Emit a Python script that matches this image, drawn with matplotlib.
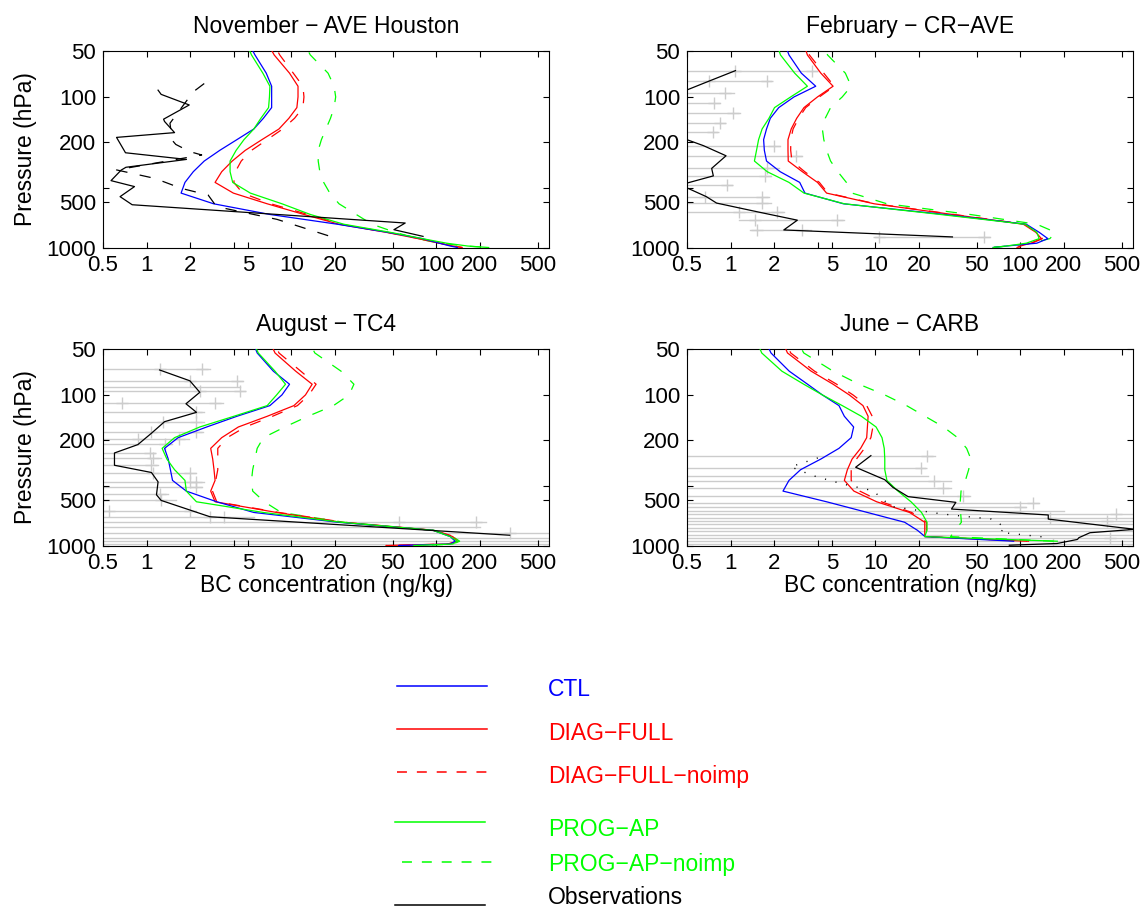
import numpy as np
import matplotlib.pyplot as plt

plt.rcParams['font.family'] = ['Liberation Sans', 'DejaVu Sans']
plt.rcParams['axes.linewidth'] = 0.8

nan = np.nan

# model levels (hPa)
p_mod = [37.23, 53.11, 70.06, 85.44, 100.51, 118.25, 139.12, 163.66, 192.54, 226.51, 266.48,
         313.50, 368.82, 433.90, 510.46, 600.52, 696.80, 787.70, 867.16, 929.65, 970.55, 992.56]

# ---- November - AVE Houston
nov_ctl = [4.6, 5.6, 6.7, 7.3, 7.3, 7.3, 6.4, 5.5, 4.2, 3.2, 2.5, 2.1, 1.84, 1.73, 2.9, 7.1, 20.8, 46, 80, 105, 125, 140]
nov_diag = [6.2, 7.6, 9.7, 11.1, 11.1, 10.9, 9.6, 8.2, 6.25, 4.8, 3.9, 3.3, 2.97, 3.97, 6.8, 12.2, 21.3, 45, 75, 105, 130, 150]
nov_diag_ni = [6.8, 8.3, 10.3, 12.0, 12.2, 12.0, 10.5, 8.7, 6.8, 5.3, 4.5, 4.1, 4.0, 4.6, 7.2, 13, 22, 46, 76, 106, 132, 152]
nov_prog = [4.5, 5.3, 6.35, 7.1, 7.05, 6.95, 6.15, 5.5, 4.7, 4.15, 3.77, 3.77, 3.93, 5.2, 8.6, 13.5, 23, 48, 80, 118, 165, 230]
nov_prog_ni = [11, 13.5, 17.9, 19.7, 20.2, 19.7, 18.6, 17.3, 16.1, 15.3, 15.3, 15.7, 16.7, 18.4, 21.3, 28, 36, 52, 74, 105, 160, 230]
nov_obs_p = [90.7, 96.7, 113.6, 141, 146, 173, 186, 235, 260, 293, 306, 359, 393, 458, 518, 684, 757, 838]
nov_obs = [1.20, 1.26, 1.97, 1.31, 1.33, 1.56, 0.62, 0.715, 1.885, 0.72, 0.667, 0.568, 0.825, 0.656, 0.795, 61, 51, 81]
nov_obs2_p = [82, 93, 150, 194, 207, 231, 243, 305, 347, 404, 447, 533, 647, 851]
nov_obs2 = [2.5, 2.1, 1.45, 1.5, 1.59, 1.99, 2.4, 0.62, 1.14, 1.74, 2.66, 3.04, 7.95, 19.5]

# ---- February - CR-AVE
feb_ctl = [2.2, 2.53, 3.08, 3.87, 2.74, 2.15, 1.88, 1.77, 1.69, 1.71, 1.77, 2.2, 3.0, 3.26, 6.0, 30, 110, 135, 155, 130, 80, 65]
feb_diag = [3.0, 3.39, 4.2, 5.1, 3.98, 3.21, 2.86, 2.62, 2.49, 2.49, 2.5, 3.13, 3.98, 4.6, 9.8, 34, 105, 128, 140, 118, 100, 95]
feb_diag_ni = [3.1, 3.5, 4.4, 5.2, 4.1, 3.3, 2.95, 2.7, 2.6, 2.6, 2.65, 3.25, 4.1, 4.7, 10, 35, 108, 130, 142, 120, 102, 97]
feb_prog = [1.95, 2.21, 2.77, 3.39, 2.6, 2.01, 1.84, 1.65, 1.56, 1.51, 1.46, 1.79, 2.53, 3.21, 6.1, 28, 108, 130, 135, 110, 80, 65]
feb_prog_ni = [4.1, 4.67, 6.2, 6.8, 5.9, 4.9, 4.5, 4.3, 4.4, 4.6, 4.9, 5.5, 6.3, 6.9, 12, 45, 130, 175, 160, 120, 85, 60]
feb_obs_p = [67.4, 78.6, 94.1, 110.7, 127.9, 149.3, 170.2, 211, 246, 298, 334, 383, 458, 505, 582, 655, 760, 845]
feb_obs = [1.08, 0.72, 0.45, 0.35, 0.35, 0.35, 0.35, 0.65, 0.93, 0.74, 0.76, 0.45, 0.68, 0.8, 1.6, 2.89, 2.33, 34]
feb_lo = [0.3, 0.3, 0.3, 0.3, 0.3, 0.3, 0.3, 0.3, 0.3, 0.3, 0.3, 0.3, 0.3, 0.3, 0.3, 1.14, 1.37, 10]
feb_hi = [3.97, 1.89, 1.05, 0.85, 1.17, 0.92, 0.8, 2.21, 3.13, 2.15, 1.89, 1.02, 1.84, 1.89, 2.33, 6.1, 3.57, 62]
feb_q1 = [1.08, 0.71, 0.3, 0.3, 0.3, 0.3, 0.3, 0.3, 0.3, 0.3, 0.3, 0.3, 0.67, 0.3, 1.14, 1.48, 1.51, 10.6]
feb_q3 = [3.67, 1.79, 0.92, 0.77, 1.04, 0.85, 0.75, 1.99, 2.81, 1.79, 1.74, 0.94, 1.65, 1.65, 2.1, 5.43, 3.12, 56]

# ---- August - TC4
aug_ctl = [5.0, 5.8, 7.5, 9.7, 8.6, 7.1, 4.2, 2.6, 1.65, 1.33, 1.41, 1.46, 1.51, 1.88, 3.05, 5.5, 21, 95, 125, 135, 125, 55]
aug_diag = [6.5, 7.7, 10.7, 13.9, 12.5, 10.4, 6.8, 4.3, 3.3, 2.77, 2.86, 2.92, 2.97, 2.77, 2.97, 7.9, 22, 95, 130, 140, 120, 45]
aug_diag_ni = [7.0, 8.2, 11.6, 14.8, 13.2, 11.0, 7.4, 4.8, 3.6, 3.1, 3.1, 3.1, 3.0, 2.85, 3.05, 8.2, 23, 97, 133, 145, 120, 45]
aug_prog = [5.0, 5.9, 7.7, 9.1, 7.9, 6.8, 4.0, 2.33, 1.56, 1.28, 1.38, 1.56, 1.84, 1.88, 2.21, 6.4, 22, 95, 125, 140, 130, 70]
aug_prog_ni = [12, 14.5, 22, 27, 25, 19.5, 13, 9, 6.4, 5.8, 5.6, 5.4, 5.3, 5.4, 6.5, 8.5, 23, 97, 130, 145, 130, 80]
aug_obs_p = [68.8, 81.1, 96.6, 115, 131, 151, 180, 214, 243, 293, 327, 377, 459, 500, 641, 849]
aug_obs = [1.23, 1.99, 2.33, 1.87, 2.21, 1.33, 1.08, 0.87, 0.6, 0.6, 1.08, 1.2, 1.17, 1.26, 2.74, 321]
aug_bar_p = [68.1, 81.1, 88.7, 95.1, 113.8, 130.9, 151.2, 175.7, 196.8, 212, 243, 261.7, 293.6, 330, 376,
             410, 453, 500, 590, 641, 692, 745, 823, 880, 930, 975]
aug_lo = [0.3] * 26
aug_hi = [2.74, 4.66, 4.4, 4.8, 3.39, 2.5, 2.5, 2.45, 1.95, 1.5, 1.15, 1.25, 1.2, 2.2, 2.5,
          2.4, 1.4, 1.6, 2.2, 5.5, 220, 200, 700, 700, 700, 700]
aug_q1 = [1.23, 1.99, 0.3, 2.33, 0.68, 0.3, 1.3, 1.08, 0.87, 0.3, 0.3, 0.3, 0.3, 1.1, 1.99,
          0.3, 0.3, 0.5, 0.55, 2.74, 55, 0.3, 0.3, 0.3, 0.3, 0.3]
aug_q3 = [2.4, 4.2, 0.3, 4.42, 2.97, 2.21, 2.21, 2.21, 1.68, 1.35, 1.05, 1.1, 1.08, 1.99, 2.19,
          2.19, 1.23, 1.26, 1.99, 3.4, 187, 0.3, 321, 0.3, 0.3, 0.3]

# ---- June - CARB
jun_ctl = [1.6, 1.9, 2.54, 3.4, 4.3, 5.6, 6.1, 7.07, 6.8, 5.6, 4.2, 3.04, 2.53, 2.3, 4.6, 8.8, 15.9, 19.5, 22, 90, nan, nan]
jun_diag = [2.1, 2.47, 3.6, 5.1, 6.6, 8.2, 8.9, 8.8, 8.7, 7.9, 6.9, 6.4, 6.1, 7.1, 10.2, 17.2, 21.9, 21.9, 21.9, 110, nan, nan]
jun_diag_ni = [2.2, 2.6, 3.8, 5.4, 7.0, 8.7, 9.5, 9.6, 9.3, 8.4, 7.4, 6.8, 6.8, 7.8, 11, 17.8, 22.5, 22.5, 22, 115, nan, nan]
jun_prog = [1.4, 1.64, 2.26, 3.2, 4.3, 5.9, 8.0, 10.1, 11.1, 11.5, 11.6, 11.6, 12, 14.3, 17.6, 20.8, 22.7, 22.7, 21.9, 180, nan, nan]
jun_prog_ni = [2.6, 3.2, 5.1, 7.7, 11.6, 16.4, 22, 29.5, 36.9, 42.6, 45.6, 44, 41.8, 39, 38.5, 38.7, 39.2, 35.5, 33, 170, nan, nan]
jun_obs_p = [253, 302, 365, 410, 472, 515, 570, 624, 664, 776, 817, 881, 905, 963, 988]
jun_obs = [9.3, 7.3, 11.6, 13.2, 16.8, 35.9, 33.5, 156, 156, 620, 303, 254, 248, 179, 84]
jun_obs2_p = [262, 300, 343, 389, 431, 547, 615, 664, 753, 812, 877]
jun_obs2 = [4.0, 2.6, 3.7, 5.9, 9.6, 12.8, 29, 63, 79, 72.7, 153]
jun_bar_p = [253, 305, 345, 373, 413, 469, 518, 550, 585, 618, 650, 684, 720, 760, 800, 840, 881, 925, 970]
jun_lo = [0.3] * 19
jun_hi = [25.7, 21.9, 23, 33, 33, 45, 135, 110, 200, 700, 700, 700, 700, 700, 700, 700, 700, 700, 700]
jun_q = [22.6, 20.7, 0.3, 25.4, 29.4, 40, 122, 100, 0.3, 455, 160, 395, 0.3, 0.3, 0.3, 0.3, 418, 0.3, 169]

xticks = [0.5, 1, 2, 5, 10, 20, 50, 100, 200, 500]
xticklabels = ['0.5', '1', '2', '5', '10', '20', '50', '100', '200', '500']
yticks = [50, 100, 200, 500, 1000]

BLUE, RED, GREEN, GREY = '#0000ff', '#ff0000', '#00ff00', '#cccccc'
DASH = (0, (9, 10))
LEG_DASH = (0, (6.5, 6.5))

fig = plt.figure(figsize=(11.43, 9.10), dpi=100)

W, H = 1143.0, 910.0
def add_panel(left, top):
    return fig.add_axes([left / W, 1 - (top + 197) / H, 446 / W, 197 / H])

ax_nov = add_panel(103, 51)
ax_feb = add_panel(687, 51)
ax_aug = add_panel(103, 349)
ax_jun = add_panel(687, 349)


def draw_bars(ax, bp, lo, hi, qs):
    for i in range(len(bp)):
        ax.plot([lo[i], hi[i]], [bp[i], bp[i]], color=GREY, lw=1.0, zorder=1)
    for q in qs:
        ax.plot(q, bp, '+', color=GREY, ms=9, mew=1.0, zorder=1)


def draw_models(ax, ctl, diag, diag_ni, prog, prog_ni):
    ax.plot(diag_ni, p_mod, color=RED, lw=0.9, linestyle=DASH, zorder=2)
    ax.plot(prog_ni, p_mod, color=GREEN, lw=0.9, linestyle=DASH, zorder=2)
    ax.plot(diag, p_mod, color=RED, lw=0.9, zorder=3)
    ax.plot(ctl, p_mod, color=BLUE, lw=0.9, zorder=3)
    ax.plot(prog, p_mod, color=GREEN, lw=0.9, zorder=3)


def style(ax, title, xlabel=False, ylabel=False):
    ax.set_xscale('log')
    ax.set_yscale('log')
    ax.set_xlim(0.5, 600)
    ax.set_ylim(1000, 50)
    ax.set_xticks(xticks)
    ax.set_xticklabels(xticklabels)
    ax.set_xticks([4], minor=True)
    ax.set_yticks(yticks)
    ax.set_yticklabels([str(t) for t in yticks])
    ax.set_yticks([400], minor=True)
    ax.xaxis.set_minor_formatter(plt.NullFormatter())
    ax.yaxis.set_minor_formatter(plt.NullFormatter())
    ax.tick_params(which='both', direction='in', top=True, right=True, width=0.8,
                   length=4, labelsize=16, pad=5)
    ax.text(0.5, 1.065, title, transform=ax.transAxes, ha='center', va='bottom', fontsize=16.5)
    if xlabel:
        ax.set_xlabel('BC concentration (ng/kg)', fontsize=16.5, labelpad=0)
    if ylabel:
        ax.set_ylabel('Pressure (hPa)', fontsize=16.5, labelpad=7)


# November
draw_models(ax_nov, nov_ctl, nov_diag, nov_diag_ni, nov_prog, nov_prog_ni)
ax_nov.plot(nov_obs2, nov_obs2_p, color='black', lw=0.9, linestyle=DASH, zorder=4)
ax_nov.plot(nov_obs, nov_obs_p, color='black', lw=0.9, zorder=4)
style(ax_nov, 'November \u2212 AVE Houston', ylabel=True)

# February
draw_bars(ax_feb, feb_obs_p, feb_lo, feb_hi, [feb_q1, feb_q3])
draw_models(ax_feb, feb_ctl, feb_diag, feb_diag_ni, feb_prog, feb_prog_ni)
ax_feb.plot(feb_obs, feb_obs_p, color='black', lw=0.9, zorder=4)
style(ax_feb, 'February \u2212 CR\u2212AVE')

# August
draw_bars(ax_aug, aug_bar_p, aug_lo, aug_hi, [aug_q1, aug_q3])
draw_models(ax_aug, aug_ctl, aug_diag, aug_diag_ni, aug_prog, aug_prog_ni)
ax_aug.plot(aug_obs, aug_obs_p, color='black', lw=0.9, zorder=4)
style(ax_aug, 'August \u2212 TC4', xlabel=True, ylabel=True)

# June
draw_bars(ax_jun, jun_bar_p, jun_lo, jun_hi, [jun_q])
draw_models(ax_jun, jun_ctl, jun_diag, jun_diag_ni, jun_prog, jun_prog_ni)
ax_jun.plot(jun_obs2, jun_obs2_p, color='black', lw=1.0, linestyle=(0, (0.8, 7)), zorder=4)
ax_jun.plot(jun_obs, jun_obs_p, color='black', lw=0.9, zorder=4)
style(ax_jun, 'June \u2212 CARB', xlabel=True)

# legend drawn in figure pixel space
legend_names = ['CTL', 'DIAG\u2212FULL', 'DIAG\u2212FULL\u2212noimp', 'PROG\u2212AP',
                'PROG\u2212AP\u2212noimp', 'Observations']
legend_colors = [BLUE, RED, RED, GREEN, GREEN, 'black']
legend_dashed = [False, False, True, False, True, False]
legend_line_y = [686, 729, 772, 822, 862, 905]
legend_line_x = [(397, 487), (397, 487), (397, 487), (395, 485), (402, 492), (395, 485)]
legend_text_y = [689, 733, 776, 829, 864, 898]

lax = fig.add_axes([0, 0, 1, 1])
lax.set_xlim(0, W)
lax.set_ylim(H, 0)
lax.axis('off')
for i, name in enumerate(legend_names):
    ls = LEG_DASH if legend_dashed[i] else '-'
    lax.plot(legend_line_x[i], [legend_line_y[i]] * 2, color=legend_colors[i], lw=1.1, linestyle=ls)
    lax.text(548, legend_text_y[i], name, color=legend_colors[i], fontsize=16.5, ha='left', va='center')

fig.savefig('out.png', dpi=100)
